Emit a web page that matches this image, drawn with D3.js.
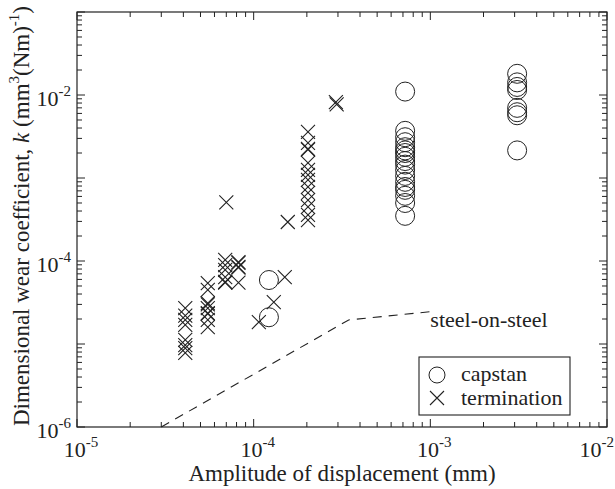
<!DOCTYPE html>
<html>
<head>
<meta charset="utf-8">
<script src="https://cdn.jsdelivr.net/npm/d3@7"></script>
<style>
	body { margin: 0; background: #fff; }
	svg { font-family: "Liberation Serif", "DejaVu Serif", serif; }
	.frame { fill: none; stroke: #222; stroke-width: 1.2; }
	.tick-line { stroke: #222; stroke-width: 1; }
	.capstan { fill: none; stroke: #222; stroke-width: 1; }
	.termination { fill: none; stroke: #222; stroke-width: 1.1; }
	.steel { fill: none; stroke: #222; stroke-width: 1.1; stroke-dasharray: 9 7; }
</style>
</head>
<body>
<div class="chart"></div>
<script>
const width = 615;
const height = 489;
const margin = {top: 12, right: 8, bottom: 62, left: 77};

// capstan: amplitude (mm) and wear coefficient
const capstanX = [
	7.2e-4, 7.2e-4, 7.2e-4, 7.2e-4, 7.2e-4, 7.2e-4, 7.2e-4, 7.2e-4, 7.2e-4,
	7.2e-4, 7.2e-4, 7.2e-4, 7.2e-4, 7.2e-4, 7.2e-4, 7.2e-4, 7.2e-4, 7.2e-4,
	3.1e-3, 3.1e-3, 3.1e-3, 3.1e-3, 3.1e-3, 3.1e-3, 3.1e-3, 3.1e-3,
	1.22e-4, 1.22e-4
];
const capstanK = [
	1.1e-2, 3.7e-3, 3.1e-3, 2.7e-3, 2.35e-3, 2.15e-3, 2.0e-3, 1.8e-3, 1.6e-3,
	1.45e-3, 1.25e-3, 1.06e-3, 9.0e-4, 7.8e-4, 7.2e-4, 6.1e-4, 5.0e-4, 3.5e-4,
	1.8e-2, 1.42e-2, 1.25e-2, 1.15e-2, 7.0e-3, 6.2e-3, 5.7e-3, 2.15e-3,
	5.9e-5, 2.1e-5
];

// termination
const termX = [
	4.1e-5, 4.1e-5, 4.1e-5, 4.1e-5, 4.1e-5, 4.1e-5, 4.1e-5, 4.1e-5,
	5.5e-5, 5.5e-5, 5.5e-5, 5.5e-5, 5.5e-5, 5.5e-5, 5.5e-5, 5.5e-5, 5.5e-5,
	6.9e-5, 6.9e-5, 6.9e-5, 6.9e-5, 6.9e-5, 6.9e-5,
	8.2e-5, 8.2e-5, 8.2e-5, 8.2e-5, 8.2e-5,
	1.5e-4, 1.3e-4, 1.07e-4,
	7.0e-5, 1.56e-4,
	2.03e-4, 2.03e-4, 2.03e-4, 2.03e-4, 2.03e-4, 2.03e-4, 2.03e-4, 2.03e-4,
	2.03e-4, 2.03e-4, 2.03e-4, 2.03e-4, 2.03e-4, 2.03e-4,
	2.92e-4, 2.95e-4
];
const termK = [
	2.7e-5, 2.2e-5, 1.95e-5, 1.7e-5, 1.12e-5, 9.7e-6, 8.9e-6, 7.8e-6,
	5.4e-5, 4.5e-5, 3.1e-5, 3.0e-5, 2.7e-5, 2.36e-5, 2.3e-5, 1.95e-5, 1.6e-5,
	1.03e-4, 8.9e-5, 7.8e-5, 6.4e-5, 5.6e-5, 5.5e-5,
	9.7e-5, 9.5e-5, 8.5e-5, 8.3e-5, 5.5e-5,
	6.4e-5, 3.2e-5, 1.84e-5,
	5.1e-4, 2.95e-4,
	3.6e-3, 2.65e-3, 2.25e-3, 2.2e-3, 1.52e-3, 1.25e-3, 1.09e-3, 9.5e-4,
	7.8e-4, 6.6e-4, 5.4e-4, 4.5e-4, 3.6e-4, 3.1e-4,
	8.2e-3, 7.7e-3
];

// steel-on-steel reference curve
const steelX = [3.0e-5, 3.45e-4, 1.0e-3];
const steelK = [1.0e-6, 1.95e-5, 2.45e-5];

const xTicks = [1e-5, 1e-4, 1e-3, 1e-2];
const yTicks = [1e-6, 1e-4, 1e-2];

const fontSize = 22;
const supSize = 15;

const svg = d3.select(".chart")
	.append("svg")
	.attr("width", width)
	.attr("height", height);

const x = d3.scaleLog()
	.domain([1e-5, 1e-2])
	.range([margin.left, width - margin.right]);
const y = d3.scaleLog()
	.domain([1e-6, 1e-1])
	.range([height - margin.bottom, margin.top]);

const plotLeft = x.range()[0], plotRight = x.range()[1];
const plotTop = y.range()[1], plotBottom = y.range()[0];

// inward ticks on all four sides
const allX = x.ticks();
const allY = y.ticks();
const isMajor = (v) => Math.abs(Math.log10(v) - Math.round(Math.log10(v))) < 1e-6;

const ticks = svg.append("g");
allX.forEach((v) => {
	const len = isMajor(v) ? 8 : 5;
	ticks.append("line").attr("class", "tick-line")
		.attr("x1", x(v)).attr("x2", x(v)).attr("y1", plotBottom).attr("y2", plotBottom - len);
	ticks.append("line").attr("class", "tick-line")
		.attr("x1", x(v)).attr("x2", x(v)).attr("y1", plotTop).attr("y2", plotTop + len);
});
allY.forEach((v) => {
	const len = isMajor(v) ? 8 : 5;
	ticks.append("line").attr("class", "tick-line")
		.attr("x1", plotLeft).attr("x2", plotLeft + len).attr("y1", y(v)).attr("y2", y(v));
	ticks.append("line").attr("class", "tick-line")
		.attr("x1", plotRight).attr("x2", plotRight - len).attr("y1", y(v)).attr("y2", y(v));
});

svg.append("rect").attr("class", "frame")
	.attr("x", plotLeft).attr("y", plotTop)
	.attr("width", plotRight - plotLeft).attr("height", plotBottom - plotTop);

// tick labels as 10 with superscript exponent
const powerLabel = (sel, v) => {
	sel.append("tspan").text("10");
	sel.append("tspan")
		.attr("font-size", supSize)
		.attr("dy", -10)
		.text(Math.round(Math.log10(v)));
};

xTicks.forEach((v, i) => {
	const last = i === xTicks.length - 1;
	svg.append("text")
		.attr("x", last ? width - 1 : x(v) + 4)
		.attr("y", plotBottom + 30)
		.attr("text-anchor", last ? "end" : "middle")
		.attr("font-size", fontSize)
		.attr("fill", "#222")
		.call(powerLabel, v);
});
yTicks.forEach((v) => {
	svg.append("text")
		.attr("x", plotLeft - 6)
		.attr("y", y(v) + 11)
		.attr("text-anchor", "end")
		.attr("font-size", fontSize)
		.attr("fill", "#222")
		.call(powerLabel, v);
});

// axis titles
svg.append("text")
	.attr("x", 342)
	.attr("y", 481)
	.attr("text-anchor", "middle")
	.attr("font-size", fontSize + 1)
	.attr("fill", "#222")
	.text("Amplitude of displacement (mm)");

const yTitle = svg.append("text")
	.attr("transform", "translate(29, 216) rotate(-90)")
	.attr("text-anchor", "middle")
	.attr("font-size", fontSize + 1)
	.attr("fill", "#222");
yTitle.append("tspan").text("Dimensional wear coefficient, ");
yTitle.append("tspan").attr("font-style", "italic").text("k");
yTitle.append("tspan").text(" (mm");
yTitle.append("tspan").attr("font-size", supSize).attr("dy", -10).text("3");
yTitle.append("tspan").attr("dy", 10).text("(Nm)");
yTitle.append("tspan").attr("font-size", supSize).attr("dy", -10).text("-1");
yTitle.append("tspan").attr("dy", 10).text(")");

// steel-on-steel line
const steel = steelX.map((v, i) => [v, steelK[i]]);
svg.append("path")
	.attr("class", "steel")
	.attr("d", d3.line().x((d) => x(d[0])).y((d) => y(d[1]))(steel));
svg.append("text")
	.attr("x", x(steelX[2]))
	.attr("y", y(steelK[2]) + 15)
	.attr("font-size", fontSize)
	.attr("fill", "#222")
	.text("steel-on-steel");

// data marks
const capstan = capstanX.map((v, i) => ({x: v, k: capstanK[i]}));
const term = termX.map((v, i) => ({x: v, k: termK[i]}));

const crossPath = (s) => `M${-s},${-s}L${s},${s}M${-s},${s}L${s},${-s}`;

svg.append("g")
	.selectAll("circle")
	.data(capstan)
	.enter()
	.append("circle")
		.attr("class", "capstan")
		.attr("cx", (d) => x(d.x))
		.attr("cy", (d) => y(d.k))
		.attr("r", 9.5);

svg.append("g")
	.selectAll("path")
	.data(term)
	.enter()
	.append("path")
		.attr("class", "termination")
		.attr("d", crossPath(7))
		.attr("transform", (d) => `translate(${x(d.x)},${y(d.k)})`);

// legend
const legend = svg.append("g").attr("transform", "translate(419, 357)");
legend.append("rect")
	.attr("width", 151).attr("height", 58)
	.attr("fill", "#fff").attr("stroke", "#222").attr("stroke-width", 1.1);
legend.append("circle").attr("class", "capstan")
	.attr("cx", 18).attr("cy", 18).attr("r", 8);
legend.append("path").attr("class", "termination")
	.attr("d", crossPath(7))
	.attr("transform", "translate(18, 41)");
legend.append("text")
	.attr("x", 42).attr("y", 24)
	.attr("font-size", fontSize).attr("fill", "#222")
	.text("capstan");
legend.append("text")
	.attr("x", 42).attr("y", 48)
	.attr("font-size", fontSize).attr("fill", "#222")
	.text("termination");
</script>
</body>
</html>
